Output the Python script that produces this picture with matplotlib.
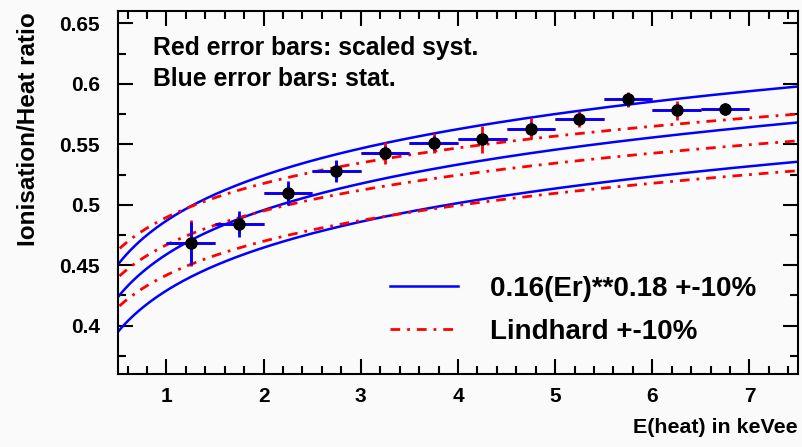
import numpy as np
import matplotlib.pyplot as plt
from matplotlib.ticker import MultipleLocator

plt.rcParams['font.family'] = ['Liberation Sans', 'DejaVu Sans']
plt.rcParams['font.weight'] = 'bold'

# measured ratio in bins of heat energy (keVee)
e_heat = [1.25, 1.75, 2.25, 2.75, 3.25, 3.75, 4.25, 4.75, 5.25, 5.75, 6.25, 6.75]
e_halfwidth = [0.25] * 12
ratio = [0.468, 0.484, 0.510, 0.528, 0.543, 0.551, 0.554, 0.563, 0.571, 0.587, 0.578, 0.579]
err_stat = [0.018, 0.011, 0.010, 0.009, 0.0055, 0.006, 0.005, 0.005, 0.004, 0.005, 0.004, 0.005]
err_syst = [0.019, 0.008, 0.007, 0.008, 0.009, 0.008, 0.011, 0.009, 0.0065, 0.006, 0.008, 0.004]

# model parameters: Q = 0.16*Er**0.18, Lindhard for Ge, Luke boost V/eps = 8/3
q_norm = 0.16
q_pow = 0.18
lind_k = 0.133 * 32 ** (2 / 3) / np.sqrt(72.6)
luke = 8 / 3
scales = [1.1, 1.0, 0.9]

er = np.linspace(0.3, 40, 800)


def to_heat(q):
    # heat energy in keVee and ion/heat ratio for a recoil energy er
    eh = er * (1 + luke * q) / (1 + luke)
    r = q * (1 + luke) / (1 + luke * q)
    return eh, r


def lindhard(k):
    eps = 11.5 * 32 ** (-7 / 3) * er
    g = 3 * eps ** 0.15 + 0.7 * eps ** 0.6 + eps
    return k * g / (1 + k * g)


fig, ax = plt.subplots(figsize=(8.02, 4.47), dpi=100)
fig.patch.set_facecolor('#fafafa')
ax.set_facecolor('#fafafa')
fig.subplots_adjust(left=0.147, right=0.995, bottom=0.163, top=0.975)

for i, s in enumerate(scales):
    eh, r = to_heat(s * q_norm * er ** q_pow)
    ax.plot(eh, r, color='#0000ff', lw=1.8,
            label='0.16(Er)**0.18 +-10%' if i == 0 else None)
for i, s in enumerate(scales):
    eh, r = to_heat(lindhard(s * lind_k))
    ax.plot(eh, r, color='#ff0000', lw=2, dashes=(3.5, 2.5, 1, 2.5),
            label='Lindhard +-10%' if i == 0 else None)

ax.errorbar(e_heat, ratio, xerr=e_halfwidth, yerr=err_syst, fmt='none',
            ecolor='#ff0000', elinewidth=2, capsize=0)
ax.errorbar(e_heat, ratio, xerr=e_halfwidth, yerr=err_stat, fmt='o',
            color='black', ms=8, ecolor='#0000ff', elinewidth=2, capsize=0)

ax.set_xlim(0.5, 7.5)
ax.set_ylim(0.36, 0.66)
ax.xaxis.set_major_locator(MultipleLocator(1))
ax.xaxis.set_minor_locator(MultipleLocator(0.2))
ax.yaxis.set_major_locator(MultipleLocator(0.05))
ax.yaxis.set_minor_locator(MultipleLocator(0.025))
ax.set_yticks([0.4, 0.45, 0.5, 0.55, 0.6, 0.65])
ax.set_yticklabels(['0.4', '0.45', '0.5', '0.55', '0.6', '0.65'])
ax.tick_params(which='both', direction='in', top=True, right=True, width=1.5,
               labelsize=15)
ax.tick_params(which='major', length=11)
ax.tick_params(which='minor', length=5.5)
ax.tick_params(axis='y', pad=13)
ax.tick_params(axis='x', pad=9)
for sp in ax.spines.values():
    sp.set_linewidth(1.5)

ax.text(0.052, 0.88, 'Red error bars: scaled syst.', transform=ax.transAxes,
        fontsize=17.8, fontweight='bold')
ax.text(0.052, 0.795, 'Blue error bars: stat.', transform=ax.transAxes,
        fontsize=17.8, fontweight='bold')

fig.text(0.994, 0.022, 'E(heat) in keVee', ha='right', va='bottom',
         fontsize=15.4, fontweight='bold')
fig.text(0.035, 0.972, 'Ionisation/Heat ratio', rotation=90, ha='center',
         va='top', fontsize=17.5, fontweight='bold')

ax.legend(loc='upper left', bbox_to_anchor=(0.4, 0.27), frameon=False,
          fontsize=20, handlelength=2.45, handletextpad=1.15,
          labelspacing=0.6, borderpad=0, borderaxespad=0)

fig.savefig('out.png', dpi=100, facecolor=fig.get_facecolor())
